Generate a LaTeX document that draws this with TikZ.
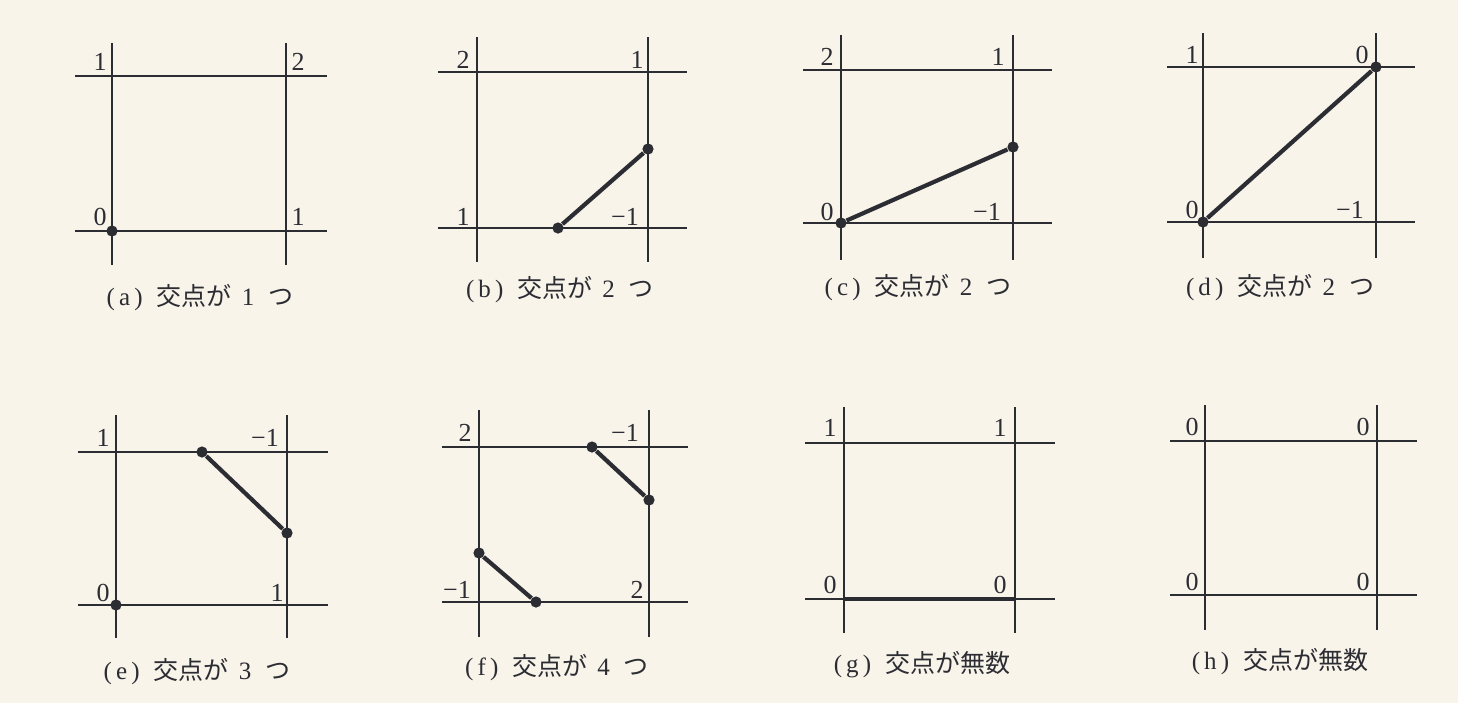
\documentclass[tikz,border=0pt]{standalone}
\usepackage{fontspec}
\setmainfont{Liberation Serif}
\newfontfamily\cjk{Noto Sans CJK JP}
\definecolor{inkc}{HTML}{2C2C33}
\definecolor{paperc}{HTML}{F8F4EA}
\tikzset{
  gridline/.style={draw=inkc, line width=1.1pt},
  thickseg/.style={draw=inkc, line width=2.1pt},
  dotpt/.style={circle, fill=inkc, inner sep=0pt, minimum size=5.6pt},
  numlab/.style={text=inkc, font=\fontsize{13}{14}\selectfont, inner sep=0pt},
  caplab/.style={text=inkc, font=\fontsize{12.5}{13}\selectfont, inner sep=0pt},
}
\newcommand\gridbox[9]{%
  \coordinate (#1vla) at (#2,#4); \coordinate (#1vlb) at (#2,#5);
  \coordinate (#1vra) at (#3,#4); \coordinate (#1vrb) at (#3,#5);
  \coordinate (#1hta) at (#8,#6); \coordinate (#1htb) at (#9,#6);
  \coordinate (#1hba) at (#8,#7); \coordinate (#1hbb) at (#9,#7);
  \draw[gridline] (#1vla) -- (#1vlb);
  \draw[gridline] (#1vra) -- (#1vrb);
  \draw[gridline] (#1hta) -- (#1htb);
  \draw[gridline] (#1hba) -- (#1hbb);
}
\newcommand\capcount[2]{(\,#1\,)\hspace{7pt}{\cjk 交点が}\hspace{5pt}#2\hspace{7pt}{\cjk つ}}
\newcommand\capinf[1]{(\,#1\,)\hspace{7pt}{\cjk 交点が無数}}
\newcommand\mn{\char"2212\relax}
\begin{document}
\begin{tikzpicture}[x=0.5pt,y=-0.5pt]
\useasboundingbox (0,0) rectangle (1458,703);
\fill[paperc] (0,0) rectangle (1458,703);

% (a)
\gridbox{a}{112}{286}{43}{265}{76}{231}{75}{327}
\node[dotpt] (ap1) at (112,231) {};
\node[numlab] (al1) at (100,62) {1};
\node[numlab] (al2) at (298,62) {2};
\node[numlab] (al3) at (100,217) {0};
\node[numlab] (al4) at (298,217) {1};
\node[caplab] (acap) at (200,298) {\capcount{a}{1}};

% (b)
\gridbox{b}{477}{648}{37}{262}{72}{228}{438}{687}
\node[dotpt] (bp1) at (558,228) {};
\node[dotpt] (bp2) at (648,149) {};
\draw[thickseg] (bp1) -- (bp2);
\node[numlab] (bl1) at (463,60) {2};
\node[numlab] (bl2) at (637,60) {1};
\node[numlab] (bl3) at (463,217) {1};
\node[numlab] (bl4) at (625,217) {\mn 1};
\node[caplab] (bcap) at (560,290) {\capcount{b}{2}};

% (c)
\gridbox{c}{841}{1013}{35}{260}{70}{223}{803}{1052}
\node[dotpt] (cp1) at (841,223) {};
\node[dotpt] (cp2) at (1013,147) {};
\draw[thickseg] (cp1) -- (cp2);
\node[numlab] (cl1) at (827,57) {2};
\node[numlab] (cl2) at (998,57) {1};
\node[numlab] (cl3) at (827,212) {0};
\node[numlab] (cl4) at (987,212) {\mn 1};
\node[caplab] (ccap) at (918,288) {\capcount{c}{2}};

% (d)
\gridbox{d}{1203}{1376}{33}{258}{67}{222}{1167}{1415}
\node[dotpt] (dp1) at (1203,222) {};
\node[dotpt] (dp2) at (1376,67) {};
\draw[thickseg] (dp1) -- (dp2);
\node[numlab] (dl1) at (1192,55) {1};
\node[numlab] (dl2) at (1362,55) {0};
\node[numlab] (dl3) at (1192,210) {0};
\node[numlab] (dl4) at (1350,210) {\mn 1};
\node[caplab] (dcap) at (1280,288) {\capcount{d}{2}};

% (e)
\gridbox{e}{116}{287}{415}{638}{452}{605}{78}{328}
\node[dotpt] (ep1) at (202,452) {};
\node[dotpt] (ep2) at (287,533) {};
\node[dotpt] (ep3) at (116,605) {};
\draw[thickseg] (ep1) -- (ep2);
\node[numlab] (el1) at (103,438) {1};
\node[numlab] (el2) at (265,438) {\mn 1};
\node[numlab] (el3) at (103,593) {0};
\node[numlab] (el4) at (277,593) {1};
\node[caplab] (ecap) at (197,672) {\capcount{e}{3}};

% (f)
\gridbox{f}{479}{649}{410}{637}{447}{602}{442}{688}
\node[dotpt] (fp1) at (592,447) {};
\node[dotpt] (fp2) at (649,500) {};
\node[dotpt] (fp3) at (479,553) {};
\node[dotpt] (fp4) at (536,602) {};
\draw[thickseg] (fp1) -- (fp2);
\draw[thickseg] (fp3) -- (fp4);
\node[numlab] (fl1) at (465,433) {2};
\node[numlab] (fl2) at (625,433) {\mn 1};
\node[numlab] (fl3) at (457,590) {\mn 1};
\node[numlab] (fl4) at (637,590) {2};
\node[caplab] (fcap) at (557,668) {\capcount{f}{4}};

% (g)
\gridbox{g}{844}{1015}{407}{633}{443}{599}{805}{1055}
\draw[inkc, line width=1.7pt] (gvlb |- ghba) -- (gvrb |- ghbb);
\node[numlab] (gl1) at (830,428) {1};
\node[numlab] (gl2) at (1000,428) {1};
\node[numlab] (gl3) at (830,585) {0};
\node[numlab] (gl4) at (1000,585) {0};
\node[caplab] (gcap) at (922,665) {\capinf{g}};

% (h)
\gridbox{h}{1205}{1377}{405}{630}{441}{595}{1170}{1417}
\node[numlab] (hl1) at (1192,427) {0};
\node[numlab] (hl2) at (1363,427) {0};
\node[numlab] (hl3) at (1192,582) {0};
\node[numlab] (hl4) at (1363,582) {0};
\node[caplab] (hcap) at (1280,662) {\capinf{h}};
\end{tikzpicture}
\end{document}
